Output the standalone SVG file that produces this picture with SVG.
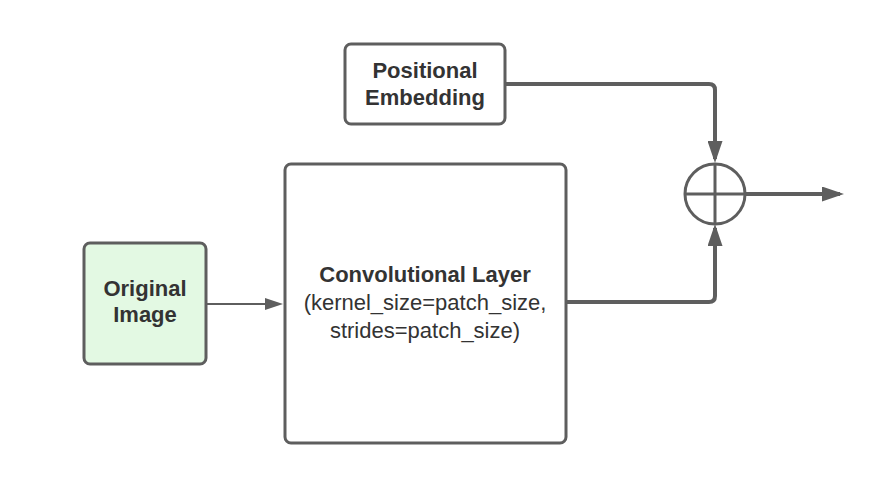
<svg xmlns="http://www.w3.org/2000/svg" width="885" height="500" viewBox="0 0 885 500">
<style>
.box{fill:#fff;stroke:#5e5e5e;stroke-width:3}
.t{font-family:"Liberation Sans",Arial,sans-serif;font-size:22px;fill:#333;text-anchor:middle}
.b{font-weight:bold}
.thick{fill:none;stroke:#5e5e5e;stroke-width:4;stroke-linejoin:round}
.thin{fill:none;stroke:#5e5e5e;stroke-width:2}
</style>
<defs>
<marker id="ah" viewBox="0 0 22 15" refX="18" refY="7.5" markerWidth="22" markerHeight="15" markerUnits="userSpaceOnUse" orient="auto">
<path d="M0,0 L22,7.5 L0,15 z" fill="#5e5e5e"/>
</marker>
<marker id="ahs" viewBox="0 0 18 12" refX="15" refY="6" markerWidth="18" markerHeight="12" markerUnits="userSpaceOnUse" orient="auto">
<path d="M0,0 L18,6 L0,12 z" fill="#5e5e5e"/>
</marker>
</defs>
<rect width="885" height="500" fill="#fff"/>
<g id="connectors">
<path class="thick" d="M505,84 H709 Q715,84 715,90 V159" marker-end="url(#ah)"/>
<path class="thick" d="M566,302 H709 Q715,302 715,296 V228" marker-end="url(#ah)"/>
<path class="thick" d="M746,194 H840" marker-end="url(#ah)"/>
<path class="thin" d="M206,304 H280" marker-end="url(#ahs)"/>
</g>
<g id="positional-embedding">
<rect class="box" x="345" y="44" width="160" height="80" rx="6"/>
<text class="t b" x="425" y="78">Positional</text>
<text class="t b" x="425" y="105">Embedding</text>
</g>
<g id="original-image">
<rect class="box" x="84" y="243" width="122" height="121" rx="6" style="fill:#e3f9e3"/>
<text class="t b" x="145" y="296">Original</text>
<text class="t b" x="145" y="322">Image</text>
</g>
<g id="conv-layer">
<rect class="box" x="285" y="164" width="281" height="279" rx="6"/>
<text class="t b" x="425" y="282">Convolutional Layer</text>
<text class="t" x="425" y="310">(kernel_size=patch_size,</text>
<text class="t" x="425" y="338">strides=patch_size)</text>
</g>
<g id="sum">
<circle cx="715" cy="194" r="30" fill="#fff" stroke="#5e5e5e" stroke-width="3"/>
<path d="M715,164 V224 M685,194 H745" stroke="#5e5e5e" stroke-width="3"/>
</g>
</svg>
